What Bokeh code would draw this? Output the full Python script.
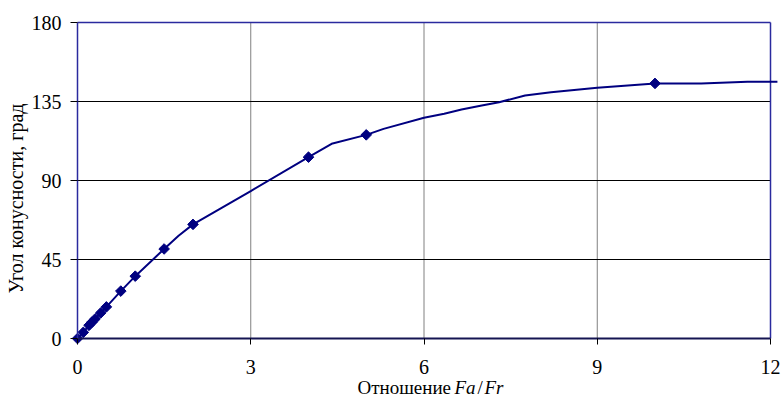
import math
from bokeh.plotting import figure
from bokeh.models import FixedTicker, Range1d, LinearAxis
from bokeh.core.properties import value
from bokeh.embed import file_html
from bokeh.resources import INLINE

# Cone angle vs. load ratio Fa/Fr
curve_x = [0, 0.1, 0.2, 0.25, 0.3, 0.4, 0.5, 0.75, 1.0, 1.5, 1.75, 2.0, 3.0, 4.0, 4.4, 5.0,
           5.3, 6.0, 6.35, 6.65, 7.0, 7.3, 7.75, 8.2, 9.0, 10.0, 10.8, 11.6, 12.12]
curve_y = [0, 3.5, 7.5, 9.3, 11, 14.5, 18, 27, 35.5, 51, 58.5, 65, 84, 103.3, 110.9, 116,
           119.4, 125.7, 128, 130.4, 132.7, 134.6, 138.4, 140.3, 142.8, 145.3, 145.3, 146.2, 146.2]

mark_x = [0, 0.1, 0.2, 0.25, 0.3, 0.4, 0.5, 0.75, 1.0, 1.5, 2.0, 4.0, 5.0, 10.0]
mark_y = [0, 3.5, 7.5, 9.3, 11, 14.5, 18, 27, 35.5, 51, 65, 103.3, 116, 145.3]

x_ticks = [0, 3, 6, 9, 12]
y_ticks = [0, 45, 90, 135, 180]

SERIF = "Liberation Serif"
NAVY = "#000080"
FRAME = "#2a2a9e"

# canvas layout (pixels): plot area from x=77..770, y=22..338
W, H = 782, 397
LEFT, BOTTOM_FROM_TOP, TOP = 77, 338, 22
px_x = (770 - LEFT) / (x_ticks[-1] - x_ticks[0])
px_y = (BOTTOM_FROM_TOP - TOP) / (y_ticks[-1] - y_ticks[0])


def dx(px):
    return (px - LEFT) / px_x


def dy(py):
    return (BOTTOM_FROM_TOP - py) / px_y


p = figure(width=W, height=H, output_backend="svg", toolbar_location=None,
           x_axis_type=None, y_axis_type=None,
           x_range=Range1d(dx(0), dx(W)), y_range=Range1d(dy(H), dy(0)))
p.min_border = 0
p.outline_line_color = None
p.background_fill_color = "white"
p.border_fill_color = "white"

# grid lines inside the plot area
gx = x_ticks[1:-1]
p.segment(x0=gx, y0=[y_ticks[0]] * len(gx), x1=gx, y1=[y_ticks[-1]] * len(gx),
          line_color="#808080", line_width=1)
gy = y_ticks[1:-1]
p.segment(x0=[x_ticks[0]] * len(gy), y0=gy, x1=[x_ticks[-1]] * len(gy), y1=gy,
          line_color="black", line_width=1)

# top and right border of the plot area
p.segment(x0=[x_ticks[0]], y0=[y_ticks[-1]], x1=[x_ticks[-1]], y1=[y_ticks[-1]],
          line_color=FRAME, line_width=1.5)
p.segment(x0=[x_ticks[-1]], y0=[y_ticks[0]], x1=[x_ticks[-1]], y1=[y_ticks[-1]],
          line_color=FRAME, line_width=1.5)

# axes pinned to the plot-area edges
xaxis = LinearAxis(fixed_location=y_ticks[0], bounds=(x_ticks[0], x_ticks[-1]),
                   ticker=FixedTicker(ticks=x_ticks))
yaxis = LinearAxis(fixed_location=x_ticks[0], bounds=(y_ticks[0], y_ticks[-1]),
                   ticker=FixedTicker(ticks=y_ticks))
for ax in (xaxis, yaxis):
    ax.major_label_text_font = SERIF
    ax.major_label_text_font_size = "20px"
    ax.major_label_text_color = "black"
    ax.minor_tick_line_color = None
    ax.major_tick_line_color = "black"
    ax.major_tick_in = 0
xaxis.axis_line_color = "#151552"
xaxis.axis_line_width = 2
xaxis.major_tick_out = 6
xaxis.major_label_standoff = 15
yaxis.axis_line_color = FRAME
yaxis.axis_line_width = 1.5
yaxis.major_tick_out = 7
yaxis.major_label_standoff = 9
p.add_layout(xaxis, "below")
p.add_layout(yaxis, "left")

# data
p.line(curve_x, curve_y, line_color=NAVY, line_width=2)
p.scatter(mark_x, mark_y, marker="square", angle=math.pi / 4, size=7.5,
          fill_color=NAVY, line_color=NAVY)

# axis titles
p.text(x=[dx(15)], y=[dy(198)], text=["Угол конусности, град"], angle=math.pi / 2,
       text_align="center", text_baseline="middle",
       text_font=value(SERIF), text_font_size="20px", text_color="black")
for txt, left_px, style in [("Отношение", 357, "normal"), ("Fa", 454, "italic"),
                            ("/", 477, "normal"), ("Fr", 484, "italic")]:
    p.text(x=[dx(left_px)], y=[dy(387)], text=[txt],
           text_align="left", text_baseline="alphabetic",
           text_font=value(SERIF), text_font_size="19px", text_font_style=style,
           text_color="black")

open("out.html", "w").write(file_html(p, INLINE))
